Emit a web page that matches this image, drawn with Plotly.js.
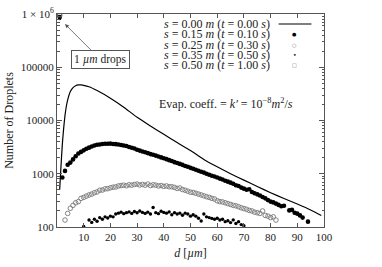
<!DOCTYPE html>
<html><head><meta charset="utf-8">
<script src="https://cdn.plot.ly/plotly-3.0.1.min.js"></script>
<style>html,body{margin:0;padding:0;background:#fff}</style>
</head><body><div id="chart" style="width:382px;height:267px"></div>
<script>
// ---- data ----
const lineD = [1,1.5,2,2.5,3,3.5,4,5,6,7,8,9,10,12,15,20,25,30,35,40,45,50,55,60,65,70,75,80,85,90,95,99];
const lineN = [500,1400,3600,7200,12500,18500,24500,35000,41500,45000,46500,46500,45800,43000,36500,26300,17800,11500,7900,5500,3850,2720,1860,1350,1000,760,575,440,343,270,209,165];

const d15 = [1,2,3,4,5,6,7,8,9,10,11,12,13,14,15,16,17,18,19,20,21,22,23,24,25,26,27,28,29,30,31,32,33,34,35,36,37,38,39,40,41,42,43,44,45,46,47,48,49,50,51,52,53,54,55,56,57,58,59,60,61,62,63,64,65,66,67,68,69,70,71,72,73,74,75,76,77,78,79,80,81,82,83,84,85,87,88,89,90,91,92,94];
const n15 = [880000,
  850,1130,1480,1620,1860,2130,2400,2570,2750,2950,
  3090,3240,3390,3500,3550,3630,3670,3650,3680,3620,
  3600,3540,3460,3400,3330,3170,3080,2980,2820,2720,
  2620,2530,2440,2340,2270,2190,2110,2030,1950,1880,
  1800,1730,1650,1590,1530,1470,1400,1350,1290,1240,
  1190,1140,1090,1050,1000,960,920,890,850,810,
  780,740,710,680,650,610,590,550,525,500,
  510,455,430,410,390,365,345,320,300,290,
  275,260,245,250,
  205,210,185,178,165,150,
  126];

const d25 = [1,3,4,5,6,7,8,9,10,11,12,13,14,15,16,17,18,19,20,21,22,23,24,25,26,27,28,29,30,31,32,33,34,35,36,37,38,39,40,41,42,43,44,45,46,47,48,49,50,51,52,53,54,55,56,57,58,59,60,61,62,63,64,65,66,67,68,69,70,71,72,73,74,75,76,77,78,79,80,81,82];
const n25 = [940000,
  135,180,225,255,285,300,345,360,380,400,
  415,440,455,490,495,520,525,545,560,565,
  590,600,610,595,620,610,630,640,615,630,
  610,640,600,620,610,590,600,580,590,570,
  570,555,530,540,505,490,470,450,445,430,
  415,400,385,370,360,345,335,310,300,295,
  285,275,265,255,250,240,230,222,215,205,
  200,190,185,180,200,165,160,150,155,135];

const d35 = [1,10,12,13,14,15,16,17,18,19,20,21,22,23,24,25,26,27,28,29,30,31,32,33,34,35,36,37,38,39,40,41,42,43,44,45,46,47,48,49,50,51,52,53,54,55,56,57,58,59,60,61,62,63,64,65,66,67,68,69,70];
const n35 = [820000,
  102,
  135,122,140,128,150,140,155,148,160,155,
  175,182,190,178,186,192,180,196,185,200,
  188,180,190,176,232,186,178,198,188,182,
  192,170,186,176,182,166,182,175,160,170,
  160,146,130,176,155,150,145,140,146,135,
  140,126,131,121,136,116,126,111,106];

const d50 = [1];
const n50 = [970000];

const seriesS = ['0.00','0.15','0.25','0.35','0.50'];
const seriesT = ['0.00','0.10','0.30','0.50','1.00'];
const yTickVals = [100,1000,10000,100000,1000000];
const yTickText = ['100','1000','10000','100000','1 × 10<sup>6</sup>'];
const xTickVals = [10,20,30,40,50,60,70,80,90,100];

// ---- styles ----
const FONT = 'Liberation Serif, Times New Roman, serif';
const TXT = '#222';
const AX = '#555';

const traces = [
  {x: lineD, y: lineN, mode: 'lines', line: {color: '#000', width: 1.2, shape: 'spline', smoothing: 0.5}, showlegend: false},
  {x: d15, y: n15, mode: 'markers', marker: {symbol: 'circle', size: 4.6, color: '#000'}, showlegend: false},
  {x: d25, y: n25, mode: 'markers', marker: {symbol: 'circle-open', size: 4.6, color: '#777', line: {width: 0.9}}, showlegend: false},
  {x: d35, y: n35, mode: 'markers', marker: {symbol: 'circle', size: 3.4, color: '#000'}, showlegend: false},
  {x: d50, y: n50, mode: 'markers', marker: {symbol: 'square-open', size: 4, color: '#555', line: {width: 0.9}}, showlegend: false}
];

// legend (text right-aligned, sample to its right, as in the reference)
const rowY = [0.953, 0.905, 0.856, 0.808, 0.759];
const sym = [null, '●', '○', '•', '□'];
const symSize = [0, 5, 5, 6, 5];
const symColor = ['#000', '#000', '#777', '#000', '#666'];
const annotations = [];
seriesS.forEach((s, i) => {
  annotations.push({xref: 'paper', yref: 'paper', x: 0.800, y: rowY[i], xanchor: 'right', yanchor: 'middle',
    text: '<i>s</i> = ' + s + ' <i>m</i> (<i>t</i> = ' + seriesT[i] + ' <i>s</i>)',
    showarrow: false, borderpad: 0, font: {family: FONT, size: 12, color: TXT}});
  if (sym[i]) annotations.push({xref: 'paper', yref: 'paper', x: 0.891, y: rowY[i], xanchor: 'center', yanchor: 'middle',
    text: sym[i], showarrow: false, borderpad: 0, font: {family: 'DejaVu Sans', size: symSize[i], color: symColor[i]}});
});
annotations.push({xref: 'paper', yref: 'paper', x: 0.633, y: 0.582, xanchor: 'center', yanchor: 'middle',
  text: 'Evap. coeff. = <i>k′</i> = 10<sup>−8</sup><i>m</i><sup>2</sup>/<i>s</i>', showarrow: false,
  font: {family: FONT, size: 12, color: TXT}});
annotations.push({x: 3, y: 5.81, xref: 'x', yref: 'y', text: '1 <i>µm</i> drops', showarrow: true,
  ax: 35, ay: 35, axref: 'pixel', ayref: 'pixel', arrowhead: 2, arrowsize: 1, arrowwidth: 0.8, arrowcolor: '#555',
  bordercolor: '#555', borderwidth: 1, borderpad: 2, bgcolor: '#fff',
  font: {family: FONT, size: 11.5, color: TXT}});

const layout = {
  width: 382, height: 267,
  margin: {l: 57, r: 58, t: 14, b: 40},
  paper_bgcolor: '#fff', plot_bgcolor: '#fff',
  showlegend: false,
  font: {family: FONT, size: 11, color: TXT},
  xaxis: {range: [0, 100], tickmode: 'array', tickvals: xTickVals, ticks: 'inside', ticklen: 4, tickcolor: AX,
    showline: true, linecolor: AX, linewidth: 1, mirror: 'ticks', showgrid: false, zeroline: false,
    tickfont: {family: FONT, size: 11, color: TXT},
    title: {text: '<i>d</i> [<i>µm</i>]', font: {family: FONT, size: 12, color: TXT}, standoff: 6}},
  yaxis: {type: 'log', range: [2, 6], tickmode: 'array', tickvals: yTickVals, ticktext: yTickText,
    ticks: 'inside', ticklen: 5, tickcolor: AX,
    minor: {ticks: 'inside', ticklen: 2.5, tickcolor: AX, dtick: 'D1', showgrid: false},
    showline: true, linecolor: AX, linewidth: 1, mirror: 'ticks', showgrid: false, zeroline: false,
    tickfont: {family: FONT, size: 11, color: TXT},
    title: {text: 'Number of Droplets', font: {family: FONT, size: 12, color: TXT}, standoff: 4}},
  shapes: [{type: 'line', xref: 'paper', yref: 'paper', x0: 0.830, x1: 0.953, y0: rowY[0], y1: rowY[0],
    line: {color: '#000', width: 1.2}}],
  annotations: annotations
};

Plotly.newPlot('chart', traces, layout, {displayModeBar: false, staticPlot: true});
</script></body></html>
